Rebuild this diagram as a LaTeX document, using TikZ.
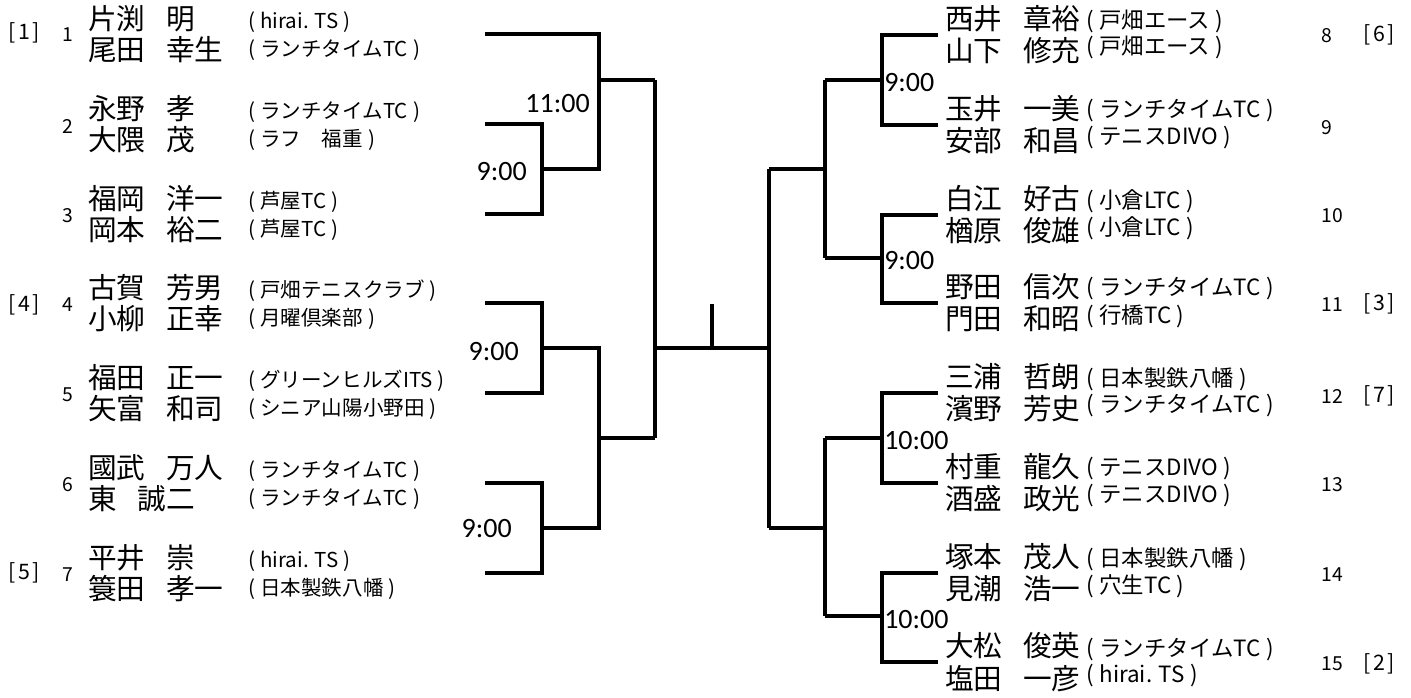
\documentclass[tikz,border=0pt]{standalone}
\usepackage{fontspec}
\newfontfamily\jpfont{Noto Sans CJK JP}
\newfontfamily\timefont{Carlito}
\newcommand\clb[1]{(\kern0.25em#1\kern0.25em)}
\newcommand\sd[1]{[\kern0.12em#1\kern0.12em]}
\newcommand\pn[2]{#1\hspace{0.72em}#2}
\tikzset{
  br/.style={line width=2.4pt, line join=miter},
  nm/.style={anchor=west, inner sep=0pt, font=\jpfont\fontsize{21.5pt}{22pt}\selectfont},
  cl/.style={anchor=west, inner sep=0pt, font=\jpfont\fontsize{15.4pt}{16pt}\selectfont},
  clr/.style={anchor=west, inner sep=0pt, font=\jpfont\fontsize{16.8pt}{17pt}\selectfont},
  num/.style={anchor=center, inner sep=0pt, font=\jpfont\fontsize{14.5pt}{15pt}\selectfont},
  numr/.style={anchor=west, inner sep=0pt, font=\jpfont\fontsize{14.5pt}{15pt}\selectfont},
  seed/.style={anchor=center, inner sep=0pt, font=\jpfont\fontsize{16pt}{17pt}\selectfont},
  tm/.style={inner sep=0pt, font=\timefont\fontsize{21pt}{22pt}\selectfont},
}
\begin{document}
\begin{tikzpicture}[x=0.75pt,y=-0.75pt]
\useasboundingbox (0,0) rectangle (1411,698);
% ---------- left players ----------
\node[seed] (sd1) at (24,33) {\sd{1}};
\node[seed] (sd4) at (24,305) {\sd{4}};
\node[seed] (sd5) at (24,573) {\sd{5}};
\node[num] (n1) at (68,35) {1};
\node[num] (n2) at (68,126) {2};
\node[num] (n3) at (68,216) {3};
\node[num] (n4) at (68,305) {4};
\node[num] (n5) at (68,395) {5};
\node[num] (n6) at (68,485) {6};
\node[num] (n7) at (68,575) {7};

\node[nm] (a1) at (88,19) {\pn{片渕}{明}};
\node[nm] (b1) at (88,50) {\pn{尾田}{幸生}};
\node[nm] (a2) at (88,109) {\pn{永野}{孝}};
\node[nm] (b2) at (88,140) {\pn{大隈}{茂}};
\node[nm] (a3) at (88,199) {\pn{福岡}{洋一}};
\node[nm] (b3) at (88,230) {\pn{岡本}{裕二}};
\node[nm] (a4) at (88,288) {\pn{古賀}{芳男}};
\node[nm] (b4) at (88,319) {\pn{小柳}{正幸}};
\node[nm] (a5) at (88,378) {\pn{福田}{正一}};
\node[nm] (b5) at (88,409) {\pn{矢富}{和司}};
\node[nm] (a6) at (88,468) {\pn{國武}{万人}};
\node[nm] (b6) at (88,499) {\pn{東}{誠二}};
\node[nm] (a7) at (88,558) {\pn{平井}{崇}};
\node[nm] (b7) at (88,589) {\pn{簑田}{孝一}};

\node[cl] (ca1) at (248,22) {\clb{hirai. TS}};
\node[cl] (cb1) at (248,50) {\clb{ランチタイムTC}};
\node[cl] (ca2) at (248,112) {\clb{ランチタイムTC}};
\node[cl] (cb2) at (248,140) {\clb{ラフ　福重}};
\node[cl] (ca3) at (248,202) {\clb{芦屋TC}};
\node[cl] (cb3) at (248,230) {\clb{芦屋TC}};
\node[cl] (ca4) at (248,291) {\clb{戸畑テニスクラブ}};
\node[cl] (cb4) at (248,319) {\clb{月曜倶楽部}};
\node[cl] (ca5) at (248,381) {\clb{グリーンヒルズITS}};
\node[cl] (cb5) at (248,409) {\clb{シニア山陽小野田}};
\node[cl] (ca6) at (248,471) {\clb{ランチタイムTC}};
\node[cl] (cb6) at (248,499) {\clb{ランチタイムTC}};
\node[cl] (ca7) at (248,561) {\clb{hirai. TS}};
\node[cl] (cb7) at (248,589) {\clb{日本製鉄八幡}};

% ---------- right players ----------
\node[nm] (a8) at (945,19) {\pn{西井}{章裕}};
\node[nm] (b8) at (945,51) {\pn{山下}{修充}};
\node[nm] (a9) at (945,109) {\pn{玉井}{一美}};
\node[nm] (b9) at (945,141) {\pn{安部}{和昌}};
\node[nm] (a10) at (945,199) {\pn{白江}{好古}};
\node[nm] (b10) at (945,231) {\pn{楢原}{俊雄}};
\node[nm] (a11) at (945,287) {\pn{野田}{信次}};
\node[nm] (b11) at (945,319) {\pn{門田}{和昭}};
\node[nm] (a12) at (945,377) {\pn{三浦}{哲朗}};
\node[nm] (b12) at (945,409) {\pn{濱野}{芳史}};
\node[nm] (a13) at (945,467) {\pn{村重}{龍久}};
\node[nm] (b13) at (945,499) {\pn{酒盛}{政光}};
\node[nm] (a14) at (945,557) {\pn{塚本}{茂人}};
\node[nm] (b14) at (945,589) {\pn{見潮}{浩一}};
\node[nm] (a15) at (945,646) {\pn{大松}{俊英}};
\node[nm] (b15) at (945,679) {\pn{塩田}{一彦}};

\node[clr] (ca8) at (1086,21) {\clb{戸畑エース}};
\node[clr] (cb8) at (1086,47) {\clb{戸畑エース}};
\node[clr] (ca9) at (1086,111) {\clb{ランチタイムTC}};
\node[clr] (cb9) at (1086,138) {\clb{テニスDIVO}};
\node[clr] (ca10) at (1086,201) {\clb{小倉LTC}};
\node[clr] (cb10) at (1086,228) {\clb{小倉LTC}};
\node[clr] (ca11) at (1086,289) {\clb{ランチタイムTC}};
\node[clr] (cb11) at (1086,316) {\clb{行橋TC}};
\node[clr] (ca12) at (1086,379) {\clb{日本製鉄八幡}};
\node[clr] (cb12) at (1086,406) {\clb{ランチタイムTC}};
\node[clr] (ca13) at (1086,469) {\clb{テニスDIVO}};
\node[clr] (cb13) at (1086,496) {\clb{テニスDIVO}};
\node[clr] (ca14) at (1086,559) {\clb{日本製鉄八幡}};
\node[clr] (cb14) at (1086,586) {\clb{穴生TC}};
\node[clr] (ca15) at (1086,650) {\clb{ランチタイムTC}};
\node[clr] (cb15) at (1086,676) {\clb{hirai. TS}};

\node[numr] (n8) at (1321,36) {8};
\node[numr] (n9) at (1321,128) {9};
\node[numr] (n10) at (1321,216) {10};
\node[numr] (n11) at (1321,305) {11};
\node[numr] (n12) at (1321,396) {12};
\node[numr] (n13) at (1321,485) {13};
\node[numr] (n14) at (1321,575) {14};
\node[numr] (n15) at (1321,664) {15};
\node[seed] (sd6) at (1379,35) {\sd{6}};
\node[seed] (sd3) at (1379,304) {\sd{3}};
\node[seed] (sd7) at (1379,396) {\sd{7}};
\node[seed] (sd2) at (1379,664) {\sd{2}};

% ---------- bracket coordinates: left ----------
\coordinate (s1) at (485,34);
\coordinate (s2) at (485,124);
\coordinate (s3) at (485,214);
\coordinate (s4) at (485,303);
\coordinate (s5) at (485,393);
\coordinate (s6) at (485,483);
\coordinate (s7) at (485,573);
\coordinate (m23) at (542,169);
\coordinate (m45) at (542,348);
\coordinate (m67) at (542,528);
\coordinate (r23) at (599,169);
\coordinate (r45) at (599,348);
\coordinate (r67) at (599,528);
\coordinate (q1) at (599,80);
\coordinate (q2) at (655,80);
\coordinate (q3) at (599,438);
\coordinate (q4) at (655,438);
\coordinate (c1) at (655,348);
\coordinate (c2) at (769,348);
\coordinate (t1) at (712,304);
\coordinate (t2) at (712,348);
% right
\coordinate (u1) at (769,169);
\coordinate (u2) at (769,528);
\coordinate (v1) at (825,169);
\coordinate (v2) at (825,528);
\coordinate (w1) at (825,80);
\coordinate (w2) at (825,258);
\coordinate (w3) at (825,438);
\coordinate (w4) at (825,616);
\coordinate (x1) at (882,80);
\coordinate (x2) at (882,258);
\coordinate (x3) at (882,438);
\coordinate (x4) at (882,616);
\coordinate (e8) at (938,35);
\coordinate (e9) at (938,125);
\coordinate (e10) at (938,215);
\coordinate (e11) at (938,303);
\coordinate (e12) at (938,393);
\coordinate (e13) at (938,483);
\coordinate (e14) at (938,573);
\coordinate (e15) at (938,662);

% ---------- bracket lines ----------
\draw[br] (s1) -| (r23) -- (m23);
\draw[br] (s2) -| (m23) |- (s3);
\draw[br] (q1) -- (q2);
\draw[br] (s4) -| (m45) |- (s5);
\draw[br] (s6) -| (m67) |- (s7);
\draw[br] (m45) -- (r45) -- (r67) -- (m67);
\draw[br] (q3) -- (q4);
\draw[br] (q2) -- (q4);
\draw[br] (c1) -- (c2);
\draw[br] (t1) -- (t2);
\draw[br] (u1) -- (u2);
\draw[br] (v1) -- (u1);
\draw[br] (v2) -- (u2);
\draw[br] (w1) -- (w2);
\draw[br] (w3) -- (w4);
\draw[br] (w1) -- (x1);
\draw[br] (w2) -- (x2);
\draw[br] (w3) -- (x3);
\draw[br] (w4) -- (x4);
\draw[br] (e8) -| (x1) |- (e9);
\draw[br] (e10) -| (x2) |- (e11);
\draw[br] (e12) -| (x3) |- (e13);
\draw[br] (e14) -| (x4) |- (e15);

% ---------- times ----------
\node[tm, anchor=east] (t11) at (590,104) {11:00};
\node[tm, anchor=east] (tA) at (527,172) {9:00};
\node[tm, anchor=east] (tB) at (519,352) {9:00};
\node[tm, anchor=east] (tC) at (512,529) {9:00};
\node[tm, anchor=west] (tD) at (884,83) {9:00};
\node[tm, anchor=west] (tE) at (884,261) {9:00};
\node[tm, anchor=west] (tF) at (884,441) {10:00};
\node[tm, anchor=west] (tG) at (884,620) {10:00};
\end{tikzpicture}
\end{document}
